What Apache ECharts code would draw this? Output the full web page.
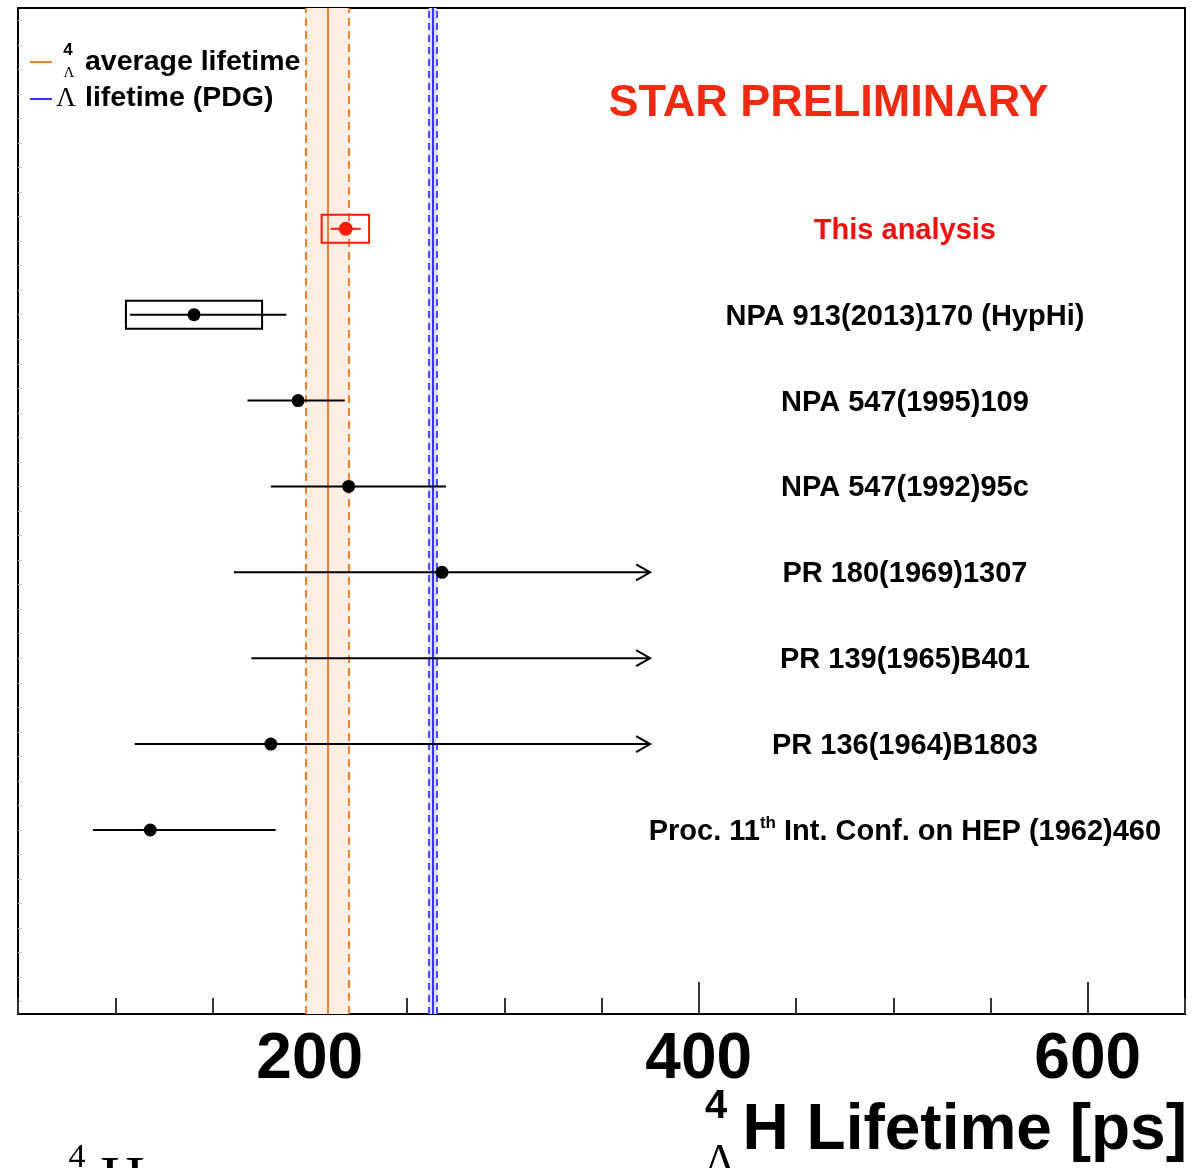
<!DOCTYPE html>
<html><head><meta charset="utf-8">
<script src="https://cdn.jsdelivr.net/npm/echarts@6/dist/echarts.min.js"></script>
<style>html,body{margin:0;padding:0;background:#fff}#c{width:1204px;height:1168px}</style>
</head><body><div id="c"></div>
<script>
// ---- data ----
const references = ['This analysis','NPA 913(2013)170 (HypHi)','NPA 547(1995)109','NPA 547(1992)95c','PR 180(1969)1307','PR 139(1965)B401','PR 136(1964)B1803','Proc. 11th Int. Conf. on HEP (1962)460'];
const rowY      = [32, 28.5, 25, 21.5, 18, 14.5, 11, 7.5];
const lifetime  = [218.5, 140.5, 194, 220, 268, null, 180, 118];
const barLow    = [210.8, 107.5, 168, 180, 161, 170, 110, 88.5];
const barHigh   = [226.2, 188, 218, 270, 375, 375, 375, 182.5];
const openUpper = [0, 0, 0, 0, 1, 1, 1, 0];
const sysLow    = [206.1, 105.5, null, null, null, null, null, null];
const sysHigh   = [230.5, 175.5, null, null, null, null, null, null];
const avgLifetime = 209, avgErr = 11.2;       // 4ΛH average
const lambdaLifetime = 263.2, lambdaErr = 2.0; // Λ PDG
const xTickLabels = [200, 400, 600];
const labelX = 506;

const RED = '#ff1a0a', ORANGE = '#f5802f', BLUE = '#3535ff';
const rowColor = i => i === 0 ? RED : '#000';

const halfTicks = [];
for (let k = 0; k <= 40; k++) halfTicks.push(k + 0.5);

const barData = references.map((r, i) => [barLow[i], barHigh[i], rowY[i], openUpper[i], i]);
const boxData = references.map((r, i) => [sysLow[i], sysHigh[i], rowY[i], i]).filter(d => d[0] != null);
const pointData = references.map((r, i) => ({value: [lifetime[i], rowY[i]], itemStyle: {color: rowColor(i), opacity: 1}, symbolSize: i === 0 ? 14 : 13})).filter(d => d.value[0] != null);
const labelData = references.map((r, i) => ({value: [labelX, rowY[i]], name: r, label: {color: i === 0 ? '#f01010' : '#000'}}));

const chart = echarts.init(document.getElementById('c'));
const FONT = '"Liberation Sans", Arial, Helvetica, sans-serif';
const SERIF = '"Liberation Serif", "Times New Roman", serif';

chart.setOption({
  animation: false,
  backgroundColor: '#fff',
  grid: {left: 18, right: 19, top: 8, bottom: 154, show: true, borderColor: '#000', borderWidth: 2, containLabel: false},
  xAxis: [{
    type: 'value', min: 50, max: 650, interval: 50, position: 'bottom',
    axisLine: {show: true, onZero: false, lineStyle: {color: '#000', width: 2}},
    axisTick: {show: true, inside: true, length: 16, lineStyle: {color: '#333', width: 2}},
    axisLabel: {show: false}, splitLine: {show: false}
  }, {
    type: 'value', min: 50, max: 650, interval: 50, position: 'bottom',
    axisLine: {show: false},
    axisTick: {show: true, inside: true, length: 32, customValues: xTickLabels, lineStyle: {color: '#333', width: 2}},
    axisLabel: {show: true, customValues: xTickLabels, fontSize: 64, fontWeight: 'bold', color: '#000', fontFamily: FONT, margin: 14},
    splitLine: {show: false}
  }],
  yAxis: {
    type: 'value', min: 0, max: 41,
    axisLine: {show: true, onZero: false, lineStyle: {color: '#000', width: 2}},
    axisTick: {show: true, inside: true, length: 4, customValues: halfTicks, lineStyle: {color: '#c8c8c8', width: 1}},
    axisLabel: {show: false}, splitLine: {show: false}
  },
  series: [
    {
      type: 'line', data: [], z: 1,
      markArea: {silent: true, data: [
        [{xAxis: avgLifetime - avgErr, itemStyle: {color: '#fdeee2'}}, {xAxis: avgLifetime + avgErr}],
        [{xAxis: lambdaLifetime - lambdaErr, itemStyle: {color: '#dcdcff'}}, {xAxis: lambdaLifetime + lambdaErr}]
      ]},
      markLine: {silent: true, symbol: ['none', 'none'], label: {show: false}, data: [
        {xAxis: avgLifetime, lineStyle: {color: ORANGE, width: 2, type: 'solid'}},
        {xAxis: avgLifetime - avgErr, lineStyle: {color: ORANGE, width: 2, type: [8, 5]}},
        {xAxis: avgLifetime + avgErr, lineStyle: {color: ORANGE, width: 2, type: [8, 5]}},
        {xAxis: lambdaLifetime, lineStyle: {color: BLUE, width: 2, type: 'solid'}},
        {xAxis: lambdaLifetime - lambdaErr, lineStyle: {color: '#4a4aff', width: 2, type: [7, 5]}},
        {xAxis: lambdaLifetime + lambdaErr, lineStyle: {color: '#4a4aff', width: 2, type: [7, 5]}}
      ]}
    },
    {
      type: 'custom', z: 5, data: boxData, encode: {x: [0, 1], y: 2},
      renderItem: (params, api) => {
        const lo = api.value(0), hi = api.value(1), y = api.value(2), i = api.value(3);
        const p1 = api.coord([lo, y + 0.57]), p2 = api.coord([hi, y - 0.57]);
        return {type: 'rect', shape: {x: p1[0], y: p1[1], width: p2[0] - p1[0], height: p2[1] - p1[1]},
          style: {fill: null, stroke: rowColor(i), lineWidth: 2}};
      }
    },
    {
      type: 'custom', z: 6, data: barData, encode: {x: [0, 1], y: 2},
      renderItem: (params, api) => {
        const lo = api.value(0), hi = api.value(1), y = api.value(2), open = api.value(3), i = api.value(4);
        const c = rowColor(i);
        const p1 = api.coord([lo, y]), p2 = api.coord([hi, y]);
        const children = [{type: 'line', shape: {x1: p1[0], y1: p1[1], x2: p2[0], y2: p2[1]}, style: {stroke: c, lineWidth: 2}}];
        if (open) children.push({type: 'polyline', shape: {points: [[p2[0] - 14, p2[1] - 8], [p2[0], p2[1]], [p2[0] - 14, p2[1] + 8]]}, style: {stroke: c, lineWidth: 2, fill: null}});
        return {type: 'group', children};
      }
    },
    {
      type: 'scatter', z: 7, symbol: 'circle', data: pointData, itemStyle: {opacity: 1}
    },
    {
      type: 'scatter', z: 8, symbolSize: 0, data: labelData, itemStyle: {opacity: 1},
      label: {
        show: true, position: 'inside', offset: [0, 2], fontSize: 29, fontWeight: 'bold', fontFamily: FONT,
        formatter: p => p.name.indexOf('11th') >= 0 ? '{n|Proc. 11}{s|th}{n| Int. Conf. on HEP (1962)460}' : p.name,
        rich: {
          n: {fontSize: 29, fontWeight: 'bold', fontFamily: FONT, color: '#000', lineHeight: 34},
          s: {fontSize: 17, fontWeight: 'bold', fontFamily: FONT, color: '#000', verticalAlign: 'top', lineHeight: 34}
        }
      }
    }
  ],
  graphic: [
    {type: 'text', style: {text: 'STAR PRELIMINARY', x: 828.5, y: 104, align: 'center', verticalAlign: 'middle', fill: '#ef2a12', font: 'bold 45px ' + FONT}},
    // legend
    {type: 'line', shape: {x1: 30, y1: 62, x2: 52, y2: 62}, style: {stroke: ORANGE, lineWidth: 2}},
    {type: 'text', style: {text: '4', x: 68, y: 50, align: 'center', verticalAlign: 'middle', fill: '#000', font: 'bold 17px ' + FONT}},
    {type: 'text', style: {text: 'Λ', x: 69, y: 73, align: 'center', verticalAlign: 'middle', fill: '#000', font: '15px ' + SERIF}},
    {type: 'text', style: {text: 'average lifetime', x: 85, y: 62, align: 'left', verticalAlign: 'middle', fill: '#000', font: 'bold 28.5px ' + FONT}},
    {type: 'line', shape: {x1: 30, y1: 99, x2: 52, y2: 99}, style: {stroke: BLUE, lineWidth: 2}},
    {type: 'text', style: {text: 'Λ', x: 66, y: 99, align: 'center', verticalAlign: 'middle', fill: '#000', font: '27px ' + SERIF}},
    {type: 'text', style: {text: 'lifetime (PDG)', x: 85, y: 98, align: 'left', verticalAlign: 'middle', fill: '#000', font: 'bold 28.5px ' + FONT}},
    // x-axis title
    {type: 'text', style: {text: 'H Lifetime [ps]', x: 1187, y: 1131, align: 'right', verticalAlign: 'middle', fill: '#000', font: 'bold 64px ' + FONT}},
    {type: 'text', style: {text: '4', x: 716, y: 1107, align: 'center', verticalAlign: 'middle', fill: '#000', font: 'bold 40px ' + FONT}},
    {type: 'text', style: {text: 'Λ', x: 720, y: 1162, align: 'center', verticalAlign: 'middle', fill: '#000', font: '44px ' + SERIF}},
    // cut-off text at bottom left
    {type: 'text', style: {text: '4', x: 77, y: 1141, align: 'center', verticalAlign: 'top', fill: '#000', font: '34px ' + SERIF}},
    {type: 'text', style: {text: 'H', x: 100, y: 1151, align: 'left', verticalAlign: 'top', fill: '#000', font: '62px ' + SERIF}}
  ]
});
</script>
</body></html>
